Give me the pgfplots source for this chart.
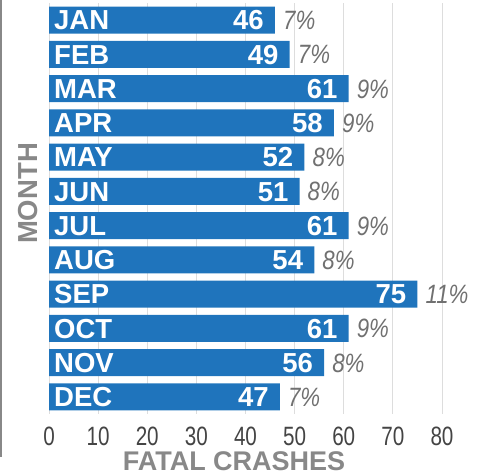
\documentclass[border=0pt]{standalone}
\usepackage{pgfplots}
\pgfplotsset{compat=1.18}
\usepackage{pgfplotstable}
\usepackage{fontspec}
\setmainfont{Liberation Sans}
\newfontfamily\condfont[FakeStretch=0.78]{Liberation Sans}
\newfontfamily\pctfont[FakeStretch=0.84]{Liberation Sans}
\definecolor{barblue}{RGB}{31,116,188}
\definecolor{labgray}{RGB}{136,136,136}
\definecolor{tickgray}{RGB}{68,68,68}
\definecolor{pctgray}{RGB}{112,112,112}
\definecolor{gridgray}{RGB}{221,221,221}

\pgfplotstableread{
y val pct mon
0 46 7 JAN
1 49 7 FEB
2 61 9 MAR
3 58 9 APR
4 52 8 MAY
5 51 8 JUN
6 61 9 JUL
7 54 8 AUG
8 75 11 SEP
9 61 9 OCT
10 56 8 NOV
11 47 7 DEC
}\crashes

\begin{document}
\begin{tikzpicture}
\useasboundingbox (0,0) rectangle (481pt,475pt);
\begin{axis}[
    at={(49pt,61pt)}, anchor=south west,
    scale only axis,
    width=393pt, height=411pt,
    xmin=0, xmax=80,
    ymin=-0.5, ymax=11.5,
    y dir=reverse,
    clip=false,
    axis line style={draw=none},
    major tick style={draw=none},
    ytick=\empty,
    xtick={0,10,...,80},
    xticklabels={0,10,20,30,40,50,60,70,80},
    xticklabel style={font=\condfont\fontsize{26.5}{28}\selectfont, text=tickgray, anchor=base, yshift=-31pt},
    xmajorgrids,
    grid style={gridgray, line width=1pt},
]
% bars
\addplot[xbar, fill=barblue, draw=none, bar width=27pt]
    table[x=val, y=y] {\crashes};
% values inside the bar end
\addplot[draw=none, mark=none, point meta=explicit symbolic,
    nodes near coords,
    nodes near coords style={anchor=base east, inner sep=0pt, xshift=-11pt, yshift=-9.8pt,
        text=white, font=\bfseries\fontsize{27.5}{28}\selectfont}]
    table[x=val, y=y, meta=val] {\crashes};
% month names
\addplot[draw=none, mark=none, point meta=explicit symbolic,
    nodes near coords,
    nodes near coords style={anchor=base west, inner sep=0pt, xshift=5pt, yshift=-9.8pt,
        text=white, font=\bfseries\fontsize{27.5}{28}\selectfont}]
    table[x expr=0, y=y, meta=mon] {\crashes};
% share of the year
\addplot[draw=none, mark=none, point meta=explicit symbolic,
    nodes near coords={\pgfplotspointmeta\%},
    nodes near coords style={anchor=base west, inner sep=0pt, xshift=8pt, yshift=-9.6pt,
        text=pctgray, font=\pctfont\itshape\fontsize{26.5}{28}\selectfont}]
    table[x=val, y=y, meta=pct] {\crashes};
\end{axis}
\draw[labgray, line width=1.5pt] (1pt,475pt) -- (1pt,18pt);
\node[rotate=90, anchor=base, inner sep=0pt, text=labgray, font=\bfseries\fontsize{27.5}{28}\selectfont] at (37pt,281.5pt) {MONTH};
\node[anchor=base, inner sep=0pt, text=labgray, font=\bfseries\fontsize{27}{28}\selectfont] at (234pt,4.5pt) {FATAL CRASHES};
\end{tikzpicture}
\end{document}
